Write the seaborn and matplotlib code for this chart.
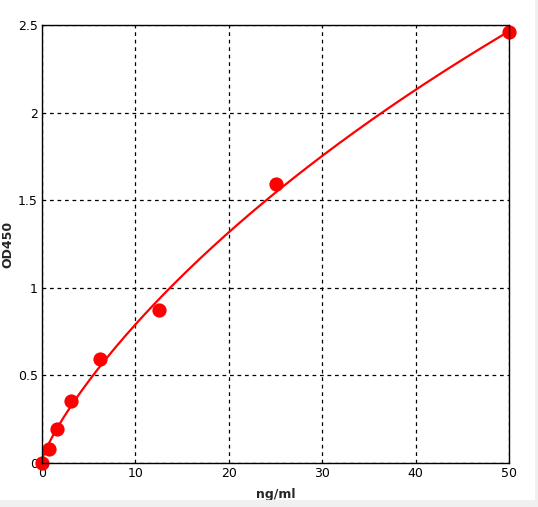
import numpy as np
import pandas as pd
import seaborn as sns
import matplotlib.pyplot as plt
from matplotlib.patches import Rectangle

# standard concentrations and measured OD
conc = [0, 0.78, 1.56, 3.125, 6.25, 12.5, 25, 50]
od450 = [0.0, 0.08, 0.195, 0.355, 0.595, 0.875, 1.59, 2.46]

# standard curve
curve_conc = [0, 3.125, 5.67, 10, 20, 30, 40, 50]
curve_od = [0.01, 0.35, 0.50, 0.78, 1.324, 1.752, 2.135, 2.46]

x_ticks = [0, 10, 20, 30, 40, 50]
y_ticks = [0, 0.5, 1, 1.5, 2, 2.5]
y_tick_labels = ["0", "0.5", "1", "1.5", "2", "2.5"]

df = pd.DataFrame({"conc": conc, "od": od450})


# 4 parameter logistic: grid over slope/ec50, linear solve for bottom/top
def fit_4pl(x, y):
    x = np.asarray(x, float)
    y = np.asarray(y, float)
    best = None
    for b in np.linspace(0.5, 2.5, 201):
        for c in np.geomspace(5, 5000, 400):
            f = x ** b / (c ** b + x ** b)
            A = np.column_stack([np.ones_like(f), f])
            sol, *_ = np.linalg.lstsq(A, y, rcond=None)
            sse = np.sum((A @ sol - y) ** 2)
            if best is None or sse < best[0]:
                best = (sse, b, c, sol)
    _, b, c, (a0, a1) = best
    return lambda t: a0 + a1 * t ** b / (c ** b + t ** b)


curve = fit_4pl(curve_conc, curve_od)
xs = np.linspace(0, 50, 300)
fit = pd.DataFrame({"conc": xs, "od": curve(xs)})

sns.set_style("white")
plt.rcParams["font.family"] = ["DejaVu Sans"]

fig = plt.figure(figsize=(5.38, 5.07), dpi=100, facecolor="white")
ax = fig.add_axes([0.0781, 0.0868, 0.868, 0.8639])

sns.lineplot(data=fit, x="conc", y="od", color="red", linewidth=1.6, ax=ax)
sns.scatterplot(data=df, x="conc", y="od", color="red", s=105, marker="o",
                edgecolor="red", linewidth=0, ax=ax, clip_on=False, zorder=5)

ax.set_xlim(0, 50)
ax.set_ylim(0, 2.5)
ax.set_xticks(x_ticks)
ax.set_yticks(y_ticks)
ax.set_yticklabels(y_tick_labels)
ax.tick_params(length=0, pad=3, labelsize=9, colors="black")

ax.grid(True, color="black", linestyle=(0, (3, 3)), linewidth=0.9)
for s in ax.spines.values():
    s.set_color("black")
    s.set_linewidth(1.0)
    s.set_zorder(6)

ax.set_xlabel("ng/ml", fontweight="bold", fontsize=9, labelpad=6)
ax.set_ylabel("OD450", fontweight="bold", fontsize=9)
ax.yaxis.set_label_coords(-0.06, 0.5)

# light grey frame strip at bottom and right of the window
fig.add_artist(Rectangle((0, 0), 1, 7 / 507, transform=fig.transFigure,
                         facecolor="#f0f0f0", edgecolor="none"))
fig.add_artist(Rectangle((535 / 538, 0), 3 / 538, 1, transform=fig.transFigure,
                         facecolor="#f0f0f0", edgecolor="none"))

fig.savefig("out.png", dpi=100, facecolor="white")
